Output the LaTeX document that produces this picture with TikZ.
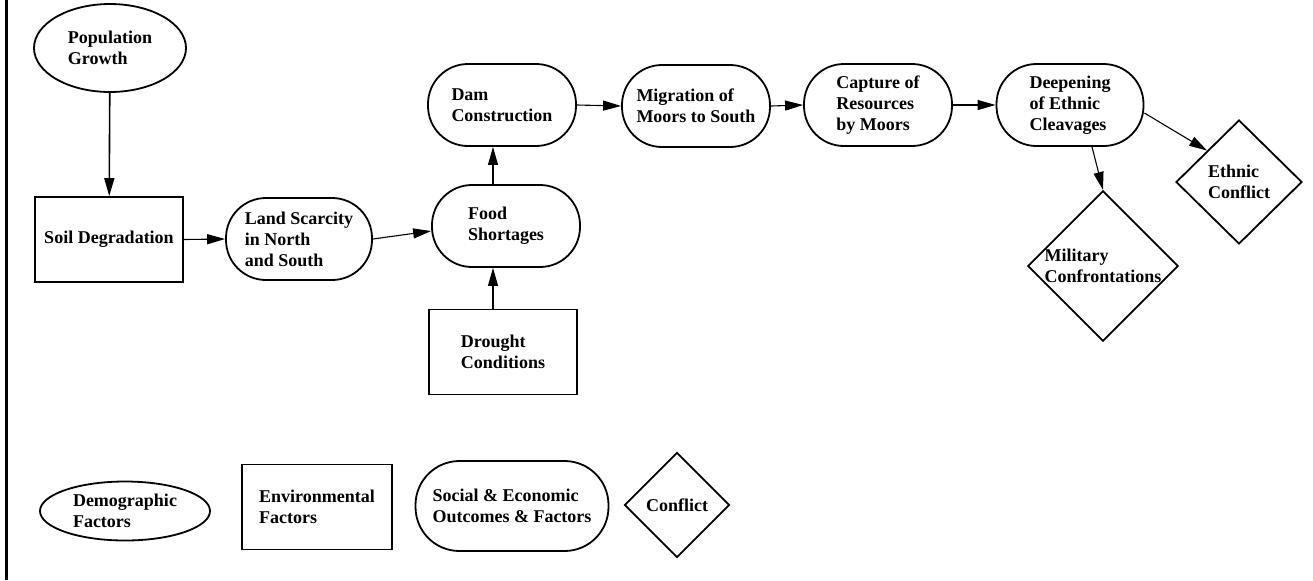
\documentclass[tikz,border=0pt]{standalone}
\usepackage{fontspec}
\setmainfont{Liberation Serif}
\usetikzlibrary{shapes.geometric,arrows.meta}
\tikzset{
  base/.style={draw, line width=0.9pt, inner sep=0pt, align=left,
    font=\fontsize{9}{10.5}\selectfont\bfseries},
  demog/.style={base, ellipse},
  envir/.style={base, rectangle},
  social/.style={base, rectangle, rounded corners=20pt},
  confl/.style={base, diamond, aspect=1},
  link/.style={line width=0.55pt, -{Triangle[length=9pt,width=5pt]}}
}
\begin{document}
\begin{tikzpicture}[x=0.5pt, y=-0.5pt]
\useasboundingbox (0,0) rectangle (1313,580);
% frame line on the left
\draw[line width=1.5pt] (6.5,0) -- (6.5,580);

% causal chain
\node[demog, minimum width=76pt, minimum height=44pt] (pop) at (110,48) {Population\\Growth};
\node[envir, minimum width=74pt, minimum height=42.5pt] (soil) at (109,239.5) {Soil Degradation};
\node[social, minimum width=73pt, minimum height=41pt] (land) at (299,239) {Land Scarcity\\in North\\and South};
\node[social, minimum width=74pt, minimum height=41pt] (food) at (506,226) {Food\\Shortages};
\node[envir, minimum width=74pt, minimum height=42.5pt] (drought) at (503,352) {Drought\\Conditions};
\node[social, minimum width=74pt, minimum height=41pt] (dam) at (502,105) {Dam\\Construction};
\node[social, minimum width=74pt, minimum height=41pt] (mig) at (696,106) {Migration of\\Moors to South};
\node[social, minimum width=74pt, minimum height=41pt] (cap) at (878,105) {Capture of\\Resources\\by Moors};
\node[social, minimum width=73.5pt, minimum height=41pt] (deep) at (1070,105) {Deepening\\of Ethnic\\Cleavages};
\node[confl, minimum width=63pt, minimum height=62pt] (ethnic) at (1239,182) {Ethnic\\Conflict};
\node[confl, minimum width=75pt, minimum height=75pt] (mil) at (1103,266) {Military\\Confrontations};

\draw[link, line width=0.8pt] (pop) -- (soil);
\draw[link] (soil.east) -- (land.west);
\draw[link] (land.east) -- ([yshift=-2.5pt]food.west);
\draw[link] ([xshift=-5pt]drought.north) -- ([xshift=-5pt]drought.north |- food.south);
\draw[link] ([xshift=-6.5pt]food.north) -- ([xshift=-6.5pt]food.north |- dam.south);
\draw[link] (dam.east) -- (mig.west);
\draw[link] (mig.east) -- (cap.west);
\draw[link] (cap.east) -- (deep.west);
\draw[link] ([yshift=-4pt]deep.east) -- (ethnic.north west);
\draw[link] ([xshift=11pt]deep.south) -- (mil.north);

% legend
\node[demog, minimum width=85pt, minimum height=29.5pt] (ldemo) at (125,511) {Demographic\\Factors};
\node[envir, minimum width=75pt, minimum height=42.5pt] (lenv) at (317,507) {Environmental\\Factors};
\node[social, minimum width=96.5pt, minimum height=45pt, rounded corners=22pt] (lsoc) at (512,506) {Social \& Economic\\Outcomes \& Factors};
\node[confl, minimum width=52.5pt, minimum height=52.5pt] (lconf) at (677,505) {Conflict};
\end{tikzpicture}
\end{document}
